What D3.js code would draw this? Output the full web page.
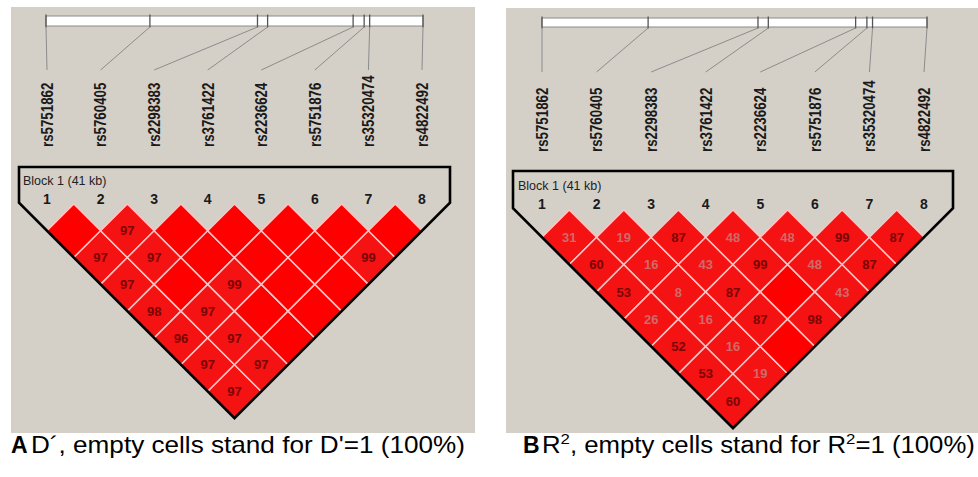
<!DOCTYPE html>
<html>
<head>
<meta charset="utf-8">
<script src="https://cdn.jsdelivr.net/npm/d3@7"></script>
<style>
  body { margin: 0; background: #fff; }
  svg { display: block; font-family: "Liberation Sans", Arial, sans-serif; }
</style>
</head>
<body>
<svg id="ld" width="978" height="477"></svg>
<script>
// SNP names and their map positions (kb from first SNP)
const snps = ["rs5751862", "rs5760405", "rs2298383", "rs3761422",
              "rs2236624", "rs5751876", "rs35320474", "rs4822492"];
const snpKb = [0, 11.3, 23.0, 24.1, 33.4, 34.6, 35.2, 41.0];
const blockLabel = "Block 1 (41 kb)";

// pairwise values, row i holds pairs (i, i+1), (i, i+2) ... ; null = empty cell (100)
const dPrimeRows = [
  [null, 97, 97, 98, 96, 97, 97],
  [97, 97, null, 97, 97, 97],
  [null, null, 99, null, null],
  [null, null, null, null],
  [null, null, null],
  [null, 99],
  [null]
];
const r2Rows = [
  [31, 60, 53, 26, 52, 53, 60],
  [19, 16, 8, 16, 16, 19],
  [87, 43, 87, 87, null],
  [48, 99, null, 98],
  [48, 48, 43],
  [99, 87],
  [87]
];

var svg = d3.select("svg#ld");

// layout of both panels
var panelA = {bg: [11, 7, 464, 426], barX: [46, 423], barY: 16, barH: 10, colX: [47, 422],
  lineEnd: 70, labelBase: 147, boxTop: 167, boxLeft: 19, block: [23, 185], numY: 204, top: 204,
  letter: "A", letterX: 11, textX: 31, textW: 434};
var panelB = {bg: [506, 8, 472, 425], barX: [542, 927], barY: 18, barH: 9, colX: [542, 924],
  lineEnd: 72, labelBase: 152, boxTop: 171, boxLeft: 513, block: [518, 190], numY: 209, top: 210,
  letter: "B", letterX: 523, textX: 542, textW: 433};

function drawPanel(cfg, rows, caption) {
  var g = svg.append("g");

  g.append("rect")
      .attr("x", cfg.bg[0]).attr("y", cfg.bg[1])
      .attr("width", cfg.bg[2]).attr("height", cfg.bg[3])
      .style("fill", "#d4d0c8");

  // physical map
  var pos = d3.scaleLinear()
      .domain(d3.extent(snpKb))
      .range(cfg.barX);
  var col = d3.scalePoint()
      .domain(snps)
      .range(cfg.colX);
  var h = col.step() / 2;

  g.append("rect")
      .attr("x", cfg.barX[0]).attr("y", cfg.barY)
      .attr("width", cfg.barX[1] - cfg.barX[0]).attr("height", cfg.barH)
      .style("fill", "#fff").style("stroke", "#8a8a8a").style("stroke-width", 1);

  g.selectAll("line.tick")
      .data(snps)
    .enter().append("line")
      .attr("class", "tick")
      .attr("x1", (d, i) => pos(snpKb[i])).attr("x2", (d, i) => pos(snpKb[i]))
      .attr("y1", cfg.barY - 1.5).attr("y2", cfg.barY + cfg.barH + 1.5)
      .style("stroke", "#555").style("stroke-width", 1.3);

  g.selectAll("line.link")
      .data(snps)
    .enter().append("line")
      .attr("class", "link")
      .attr("x1", (d, i) => pos(snpKb[i])).attr("y1", cfg.barY + cfg.barH + 1)
      .attr("x2", d => col(d)).attr("y2", cfg.lineEnd)
      .style("stroke", "#8c8c8c").style("stroke-width", 1);

  g.selectAll("text.snp")
      .data(snps)
    .enter().append("text")
      .attr("class", "snp")
      .attr("transform", d => "translate(" + (col(d) + 5.8) + "," + cfg.labelBase + ") rotate(-90) scale(1,1.25)")
      .attr("font-size", "13.3px")
      .attr("font-weight", "bold")
      .style("fill", "#1a1a1a")
      .text(d => d);

  // block outline
  var n = snps.length;
  var xc = (cfg.colX[0] + cfg.colX[1]) / 2;
  var tipY = cfg.top + n * h;
  var L = cfg.boxLeft, R = 2 * xc - L;
  g.append("path")
      .attr("d", d3.line()([[L, cfg.boxTop], [R, cfg.boxTop], [R, tipY - (R - xc)],
                            [xc, tipY], [L, tipY - (xc - L)]]) + "Z")
      .style("fill", "none").style("stroke", "#000").style("stroke-width", 2.6)
      .style("stroke-linejoin", "miter");

  g.append("text")
      .attr("x", cfg.block[0]).attr("y", cfg.block[1])
      .attr("font-size", "12.5px")
      .style("fill", "#222")
      .text(blockLabel);

  g.selectAll("text.num")
      .data(snps)
    .enter().append("text")
      .attr("class", "num")
      .attr("x", d => col(d)).attr("y", cfg.numY)
      .attr("text-anchor", "middle")
      .attr("font-size", "14px")
      .attr("font-weight", "bold")
      .style("fill", "#1a1a1a")
      .text((d, i) => i + 1);

  // LD cells
  var cells = [];
  rows.forEach((row, i) => row.forEach((v, k) => cells.push({i: i, j: i + k + 1, v: v})));
  cells.forEach(c => {
    c.cx = (col(snps[c.i]) + col(snps[c.j])) / 2;
    c.cy = cfg.top + (c.j - c.i) * h;
  });

  var cg = g.insert("g", "path");
  cg.selectAll("polygon")
      .data(cells)
    .enter().append("polygon")
      .attr("points", c => [[c.cx, c.cy - h], [c.cx + h, c.cy], [c.cx, c.cy + h], [c.cx - h, c.cy]].join(" "))
      .style("fill", c => c.v == null ? "#ff0000" : "#f41212")
      .style("stroke", "#ffc4c4").style("stroke-width", 1.5);

  cg.selectAll("text")
      .data(cells.filter(c => c.v != null))
    .enter().append("text")
      .attr("x", c => c.cx).attr("y", c => c.cy)
      .attr("dy", "0.36em")
      .attr("text-anchor", "middle")
      .attr("font-size", "13px")
      .attr("font-weight", "bold")
      .style("fill", c => c.v >= 50 ? "#7a0606" : "#d06a6a")
      .text(c => c.v);

  // caption
  svg.append("text")
      .attr("x", cfg.letterX).attr("y", 453)
      .attr("font-size", "23px").attr("font-weight", "bold")
      .style("fill", "#000")
      .text(cfg.letter);
  var ct = svg.append("text")
      .attr("font-size", "23px")
      .style("fill", "#000");
  caption(ct);
  var w = ct.node().getComputedTextLength();
  ct.attr("transform", "translate(" + cfg.textX + ",453) scale(" + (cfg.textW / w) + ",1)");
}

drawPanel(panelA, dPrimeRows, t => t.text("D\u00b4, empty cells stand for D'=1 (100%)"));
drawPanel(panelB, r2Rows, t => {
  t.append("tspan").text("R");
  t.append("tspan").attr("font-size", "15px").attr("dy", "-9").text("2");
  t.append("tspan").attr("dy", "9").text(", empty cells stand for R");
  t.append("tspan").attr("font-size", "15px").attr("dy", "-9").text("2");
  t.append("tspan").attr("dy", "9").text("=1 (100%)");
});
</script>
</body>
</html>
